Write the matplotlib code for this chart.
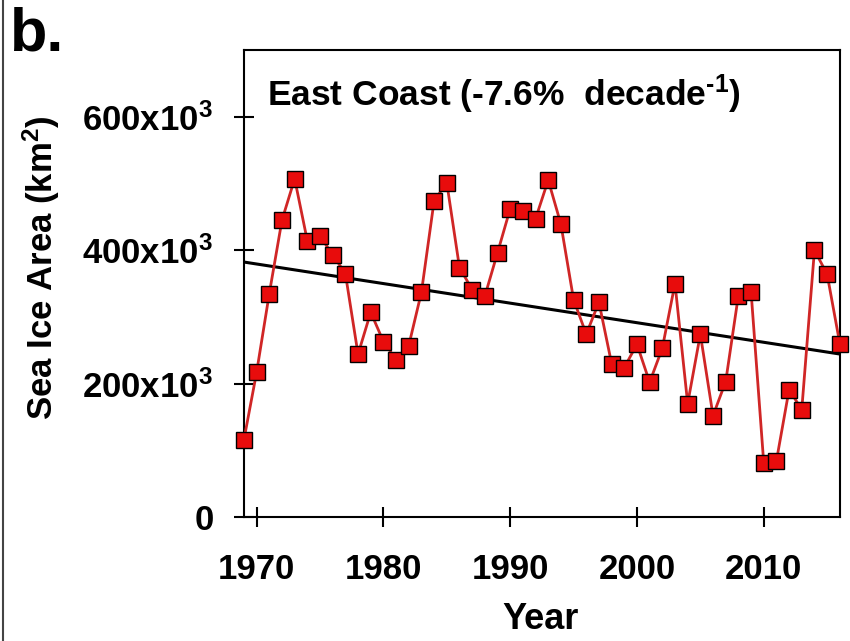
import numpy as np
import matplotlib.pyplot as plt

plt.rcParams['font.family'] = ['Liberation Sans', 'DejaVu Sans']
plt.rcParams['font.weight'] = 'bold'
plt.rcParams['mathtext.fontset'] = 'custom'
plt.rcParams['mathtext.rm'] = 'Liberation Sans:bold'
plt.rcParams['mathtext.bf'] = 'Liberation Sans:bold'
plt.rcParams['mathtext.default'] = 'bf'

years = np.arange(1969, 2017)
# East Coast sea ice area, km^2
area = np.array([
    116, 217, 335, 445, 507, 414, 421, 393, 365, 244,
    307, 263, 236, 257, 337, 474, 501, 374, 341, 331,
    396, 462, 459, 447, 505, 439, 326, 274, 322, 230,
    224, 259, 202, 253, 350, 170, 274, 152, 203, 332,
    338, 81, 84, 191, 161, 400, 364, 260,
]) * 1e3

ytick_vals = [0, 200e3, 400e3, 600e3]
ytick_labels = ['0', r'200x10$^3$', r'400x10$^3$', r'600x10$^3$']
xtick_vals = [1970, 1980, 1990, 2000, 2010]

fig = plt.figure(figsize=(8.5, 6.41), dpi=100)
ax = fig.add_axes([0.287, 0.1934, 0.701, 0.7286])

# linear trend
coef = np.polyfit(years, area, 1)
ax.plot(years, np.polyval(coef, years), color='black', lw=2.2, zorder=2)

ax.plot(years, area, '-', color='#d02626', lw=2.0, zorder=3)
ax.plot(years, area, 's', ms=11, mfc='#e80c0c', mec='black', mew=1.0,
        zorder=4, clip_on=False)

ax.set_xlim(1969, 2016)
ax.set_ylim(0, 700e3)
ax.set_xticks(xtick_vals)
ax.set_yticks(ytick_vals)
ax.set_yticklabels(ytick_labels)
ax.tick_params(direction='inout', length=14, width=1.5, labelsize=25, pad=15)
ax.tick_params(axis='x', pad=19)
for s in ax.spines.values():
    s.set_linewidth(1.5)

ax.set_xlabel('Year', fontsize=26, fontweight='bold')
ax.xaxis.set_label_coords(0.498, -0.183)
ax.set_ylabel(r'Sea Ice Area (km$^2$)', fontsize=25, fontweight='bold')
ax.yaxis.set_label_coords(-0.305, 0.535)

ax.text(0.039, 0.905, r'East Coast (-7.6%  decade$^{\text{-1}}$)',
        transform=ax.transAxes, fontsize=25.5, fontweight='bold',
        va='center', ha='left')

fig.text(0.012, 0.99, 'b.', fontsize=44, fontweight='bold', va='top', ha='left')

# panel frame on the left edge
fig.add_artist(plt.Line2D([0.004, 0.004], [0, 1], color='#444444', lw=1.5,
                          transform=fig.transFigure))

fig.savefig('out.png', dpi=100)
